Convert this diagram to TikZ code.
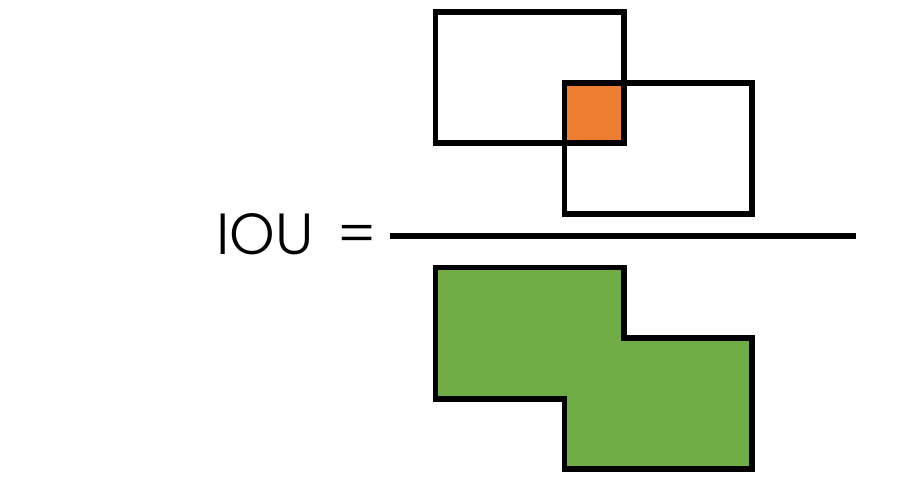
\documentclass[tikz,border=0pt]{standalone}
\usepackage{fontspec}
\setmainfont{Poppins}[UprightFont=* Light]
\usepackage{xcolor}
\definecolor{interorange}{RGB}{237,125,49}
\definecolor{uniongreen}{RGB}{112,173,71}
\tikzset{
    boxline/.style={draw=black, line width=3.1pt},
    inter/.style={fill=interorange},
    union/.style={draw=black, fill=uniongreen, line width=3.1pt},
    bigtext/.style={font=\fontsize{33}{40}\selectfont, inner sep=0pt}
}

\begin{document}
\begin{tikzpicture}[x=0.02cm, y=-0.02cm]
    \useasboundingbox (0,0) rectangle (905,487);
    % numerator: two boxes and their overlap
    \fill[inter] (564,83) rectangle (624,143);
    \draw[boxline] (435.5,12) rectangle (624,143);
    \draw[boxline] (564.5,83) rectangle (752,214);
    % fraction bar
    \coordinate (barL) at (390,236);
    \coordinate (barR) at (856,236);
    \draw[line width=3pt] (barL) -- (barR);
    % denominator: union
    \draw[union] (435.5,267.5) -- (624,267.5) -- (624,338) -- (752,338)
        -- (752,469) -- (564.5,469) -- (564.5,399) -- (435.5,399) -- cycle;
    % label
    \node[bigtext, anchor=base west] (iou) at (216,254) {IOU};
    \node[bigtext, anchor=base west] (eq) at (337,254) {=};
\end{tikzpicture}
\end{document}
